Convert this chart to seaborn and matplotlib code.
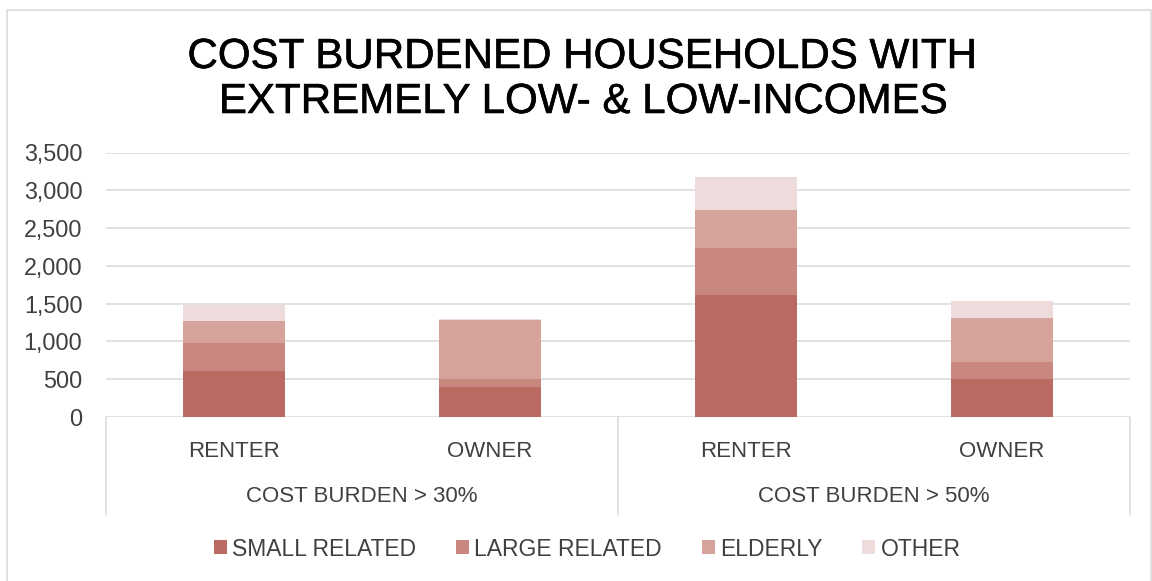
import matplotlib
matplotlib.use("Agg")
import matplotlib.pyplot as plt
import matplotlib.transforms as mtransforms
import matplotlib.patheffects as pe
from matplotlib.patches import Rectangle
from matplotlib.ticker import FuncFormatter
import numpy as np
import seaborn as sns

# Chart data
title_lines = ["COST BURDENED HOUSEHOLDS WITH", "EXTREMELY LOW- & LOW-INCOMES"]
burden_groups = ["COST BURDEN > 30%", "COST BURDEN > 50%"]
tenure = ["RENTER", "OWNER", "RENTER", "OWNER"]
household_types = ["SMALL RELATED", "LARGE RELATED", "ELDERLY", "OTHER"]
small_related = [605, 395, 1620, 500]
large_related = [380, 105, 615, 230]
elderly = [290, 780, 510, 575]
other = [210, 15, 425, 230]
y_ticks = [0, 500, 1000, 1500, 2000, 2500, 3000, 3500]

colors = ["#BA6A61", "#C8877F", "#D6A39C", "#EEDCDC"]
grid_color = "#D9D9D9"
text_color = "#404040"

sns.set_theme(style="white")
plt.rcParams["font.family"] = ["Liberation Sans", "DejaVu Sans"]

W, H = 1152, 581
fig = plt.figure(figsize=(W / 100, H / 100), dpi=100)
ax = fig.add_axes([106 / W, (H - 417) / H, 1024 / W, 264.5 / H])

# one key per bar: burden group + tenure
bar_keys = [f"{burden_groups[i // 2]} {tenure[i]}" for i in range(len(tenure))]
layers = np.array([small_related, large_related, elderly, other], dtype=float)
cumulative = np.cumsum(layers, axis=0)

# stacked bars: draw running totals from the top segment down
for i in reversed(range(len(household_types))):
    sns.barplot(x=bar_keys, y=cumulative[i], order=bar_keys, color=colors[i],
                saturation=1, width=0.4, linewidth=0, errorbar=None,
                label=household_types[i], ax=ax)
if ax.get_legend() is not None:
    ax.get_legend().remove()

ax.set_ylim(0, 3500)
ax.set_xlim(-0.5, len(bar_keys) - 0.5)
ax.set_yticks(y_ticks)
ax.yaxis.set_major_formatter(FuncFormatter(lambda v, p: f"{v:,.0f}"))
ax.set_xticks(range(len(tenure)))
ax.set_xticklabels(tenure)
ax.set_xlabel("")
ax.set_ylabel("")
ax.tick_params(axis="y", length=0, pad=17, labelsize=16.8, labelcolor=text_color)
ax.tick_params(axis="x", length=0, pad=17, labelsize=16, labelcolor=text_color)
for s in ax.spines.values():
    s.set_visible(False)
ax.yaxis.grid(True, color=grid_color, linewidth=1.1)
ax.set_axisbelow(True)

# multi-level category axis: group labels and separators
trans = mtransforms.blended_transform_factory(ax.transData, ax.transAxes)
for g, name in enumerate(burden_groups):
    ax.text(2 * g + 0.5, -0.299, name, transform=trans, ha="center", va="center",
            fontsize=16, color=text_color)
for xpos in [-0.5, 1.5, 3.5]:
    ax.plot([xpos, xpos], [0, -0.37], transform=trans, color=grid_color,
            linewidth=1.1, clip_on=False)

# legend in series order
handles, labels = ax.get_legend_handles_labels()
order = [labels.index(n) for n in household_types]
leg = fig.legend([handles[i] for i in order], [labels[i] for i in order],
                 loc="center", bbox_to_anchor=(587 / W, 1 - 549 / H), ncol=4,
                 frameon=False, handlelength=0.57, handleheight=0.57,
                 handletextpad=0.22, columnspacing=1.75, fontsize=16.5)
for t in leg.get_texts():
    t.set_color(text_color)

# title
title_fx = [pe.withStroke(linewidth=0.4, foreground="black")]
fig.text(0.506, 1 - 68 / H, title_lines[0], ha="center", va="baseline",
         fontsize=30.3, color="black", path_effects=title_fx)
fig.text(0.507, 1 - 113 / H, title_lines[1], ha="center", va="baseline",
         fontsize=30.3, color="black", path_effects=title_fx)

# chart border
fig.add_artist(Rectangle((7 / W, -0.01), (W - 1) / W - 7 / W, 1 - 10 / H + 0.01,
                         transform=fig.transFigure, fill=False,
                         edgecolor=grid_color, linewidth=1.1))

fig.savefig("out.png", dpi=100)
